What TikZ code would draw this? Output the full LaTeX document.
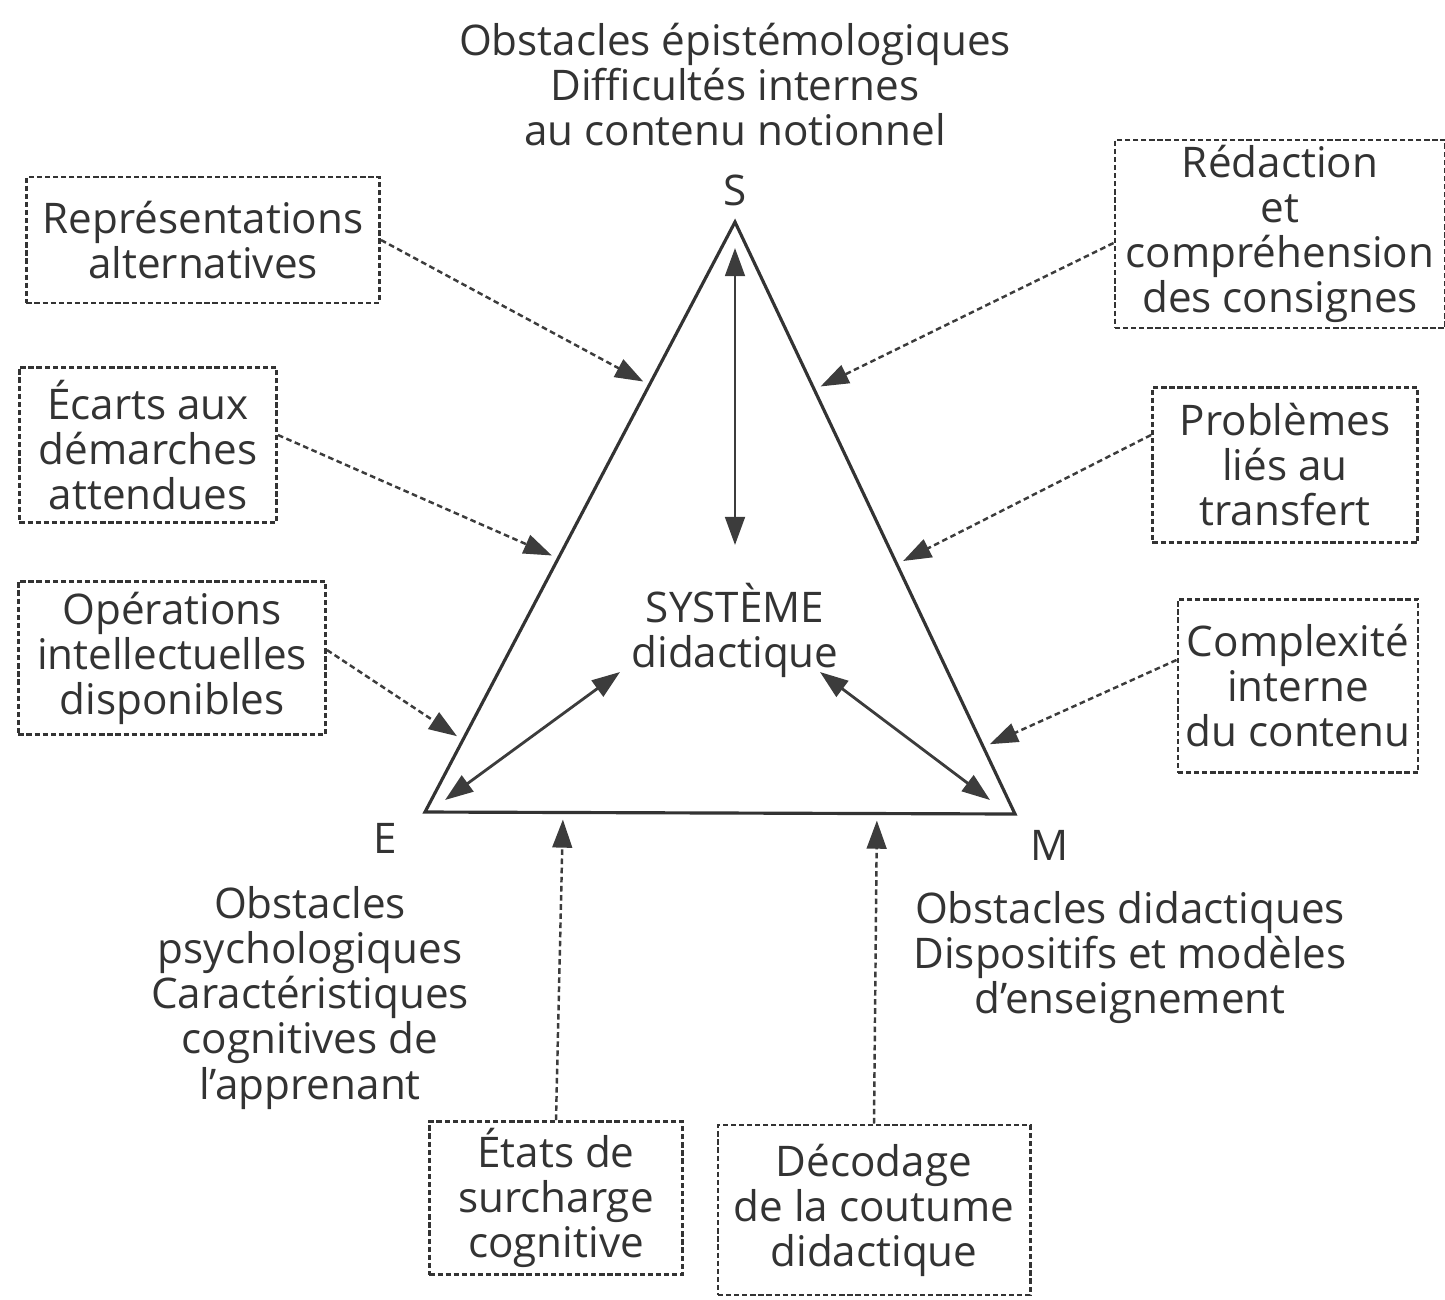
\documentclass[tikz,border=0pt]{standalone}
\usepackage{fontspec}
\setmainfont{Open Sans}
\usetikzlibrary{arrows.meta,calc}
\definecolor{encre}{HTML}{333333}
\definecolor{fleche}{HTML}{3C3C3C}

\begin{document}
\begin{tikzpicture}[x=0.01cm,y=-0.01cm,line width=0.6pt,>={Triangle[length=8pt,width=5.6pt]},
  every node/.style={font=\fontsize{12}{12.8}\selectfont,text=encre,align=center},
  cadre/.style={draw=encre,dash pattern=on 1.5pt off 0.8pt,line width=0.8pt,inner sep=0pt},
  pointille/.style={->,draw=fleche,dash pattern=on 1.6pt off 1pt,line width=0.7pt,shorten >=2pt},
  double/.style={<->,draw=fleche,line width=0.8pt}]
\useasboundingbox (0,0) rectangle (1445,1299);
% ---- triangle ----
\coordinate (S) at (735,222);
\coordinate (E) at (425,812);
\coordinate (M) at (1015,814);
\draw[draw=encre,line width=0.9pt] (S) -- (E) -- (M) -- cycle;
\node (lS) at (735,190) {S};
\node (lE) at (385,838) {E};
\node (lM) at (1050,845) {M};
\node (sys) at (735,630) {SYSTÈME\\didactique};
% ---- poles ----
\node (savoir) at (735,85) {Obstacles épistémologiques\\Difficultés internes\\au contenu notionnel};
\node (eleve) at (310,998) {Obstacles\\psychologiques\\Caractéristiques\\cognitives de\\l’apprenant};
\node (maitre) at (1130,958) {Obstacles didactiques\\Dispositifs et modèles\\d’enseignement};
% ---- boxes ----
\node[cadre,minimum width=3.53cm,minimum height=1.26cm] (repr) at (203,240) {Représentations\\alternatives};
\node[cadre,minimum width=2.57cm,minimum height=1.55cm] (ecarts) at (148,445) {Écarts aux\\démarches\\attendues};
\node[cadre,minimum width=3.07cm,minimum height=1.53cm] (oper) at (172,658) {Opérations\\intellectuelles\\disponibles};
\node[cadre,minimum width=3.30cm,minimum height=1.88cm] (redac) at (1280,234) {Rédaction\\et\\compréhension\\des consignes};
\node[cadre,minimum width=2.65cm,minimum height=1.55cm] (transf) at (1285,465) {Problèmes\\liés au\\transfert};
\node[cadre,minimum width=2.40cm,minimum height=1.73cm] (compl) at (1298,686) {Complexité\\interne\\du contenu};
\node[cadre,minimum width=2.53cm,minimum height=1.53cm] (surch) at (556,1198) {États de\\surcharge\\cognitive};
\node[cadre,minimum width=3.12cm,minimum height=1.70cm] (decod) at (874,1210) {Décodage\\de la coutume\\didactique};
% ---- dashed arrows to the sides ----
\draw[pointille] (repr.east) -- ($(S)!0.276!(E)$);
\draw[pointille] ([yshift=1mm]ecarts.east) -- ($(S)!0.57!(E)$);
\draw[pointille] ([yshift=0.8mm]oper.east) -- ($(S)!0.878!(E)$);
\draw[pointille] ([yshift=-0.9mm]redac.west) -- ($(S)!0.283!(M)$);
\draw[pointille] ([yshift=3mm]transf.west) -- ($(S)!0.578!(M)$);
\draw[pointille] ([yshift=2.6mm]compl.west) -- ($(S)!0.887!(M)$);
\draw[pointille] (surch.north) -- ($(E)!0.234!(M)$);
\draw[pointille] (decod.north) -- ($(E)!0.766!(M)$);
% ---- double arrows inside ----
\coordinate (hS) at (735,248);
\coordinate (bS) at (735,545);
\coordinate (hE) at (445,800);
\coordinate (bE) at (620,672);
\coordinate (hM) at (990,800);
\coordinate (bM) at (820,672);
\draw[double] (hS) -- (bS);
\draw[double] (hE) -- (bE);
\draw[double] (hM) -- (bM);
\end{tikzpicture}
\end{document}
